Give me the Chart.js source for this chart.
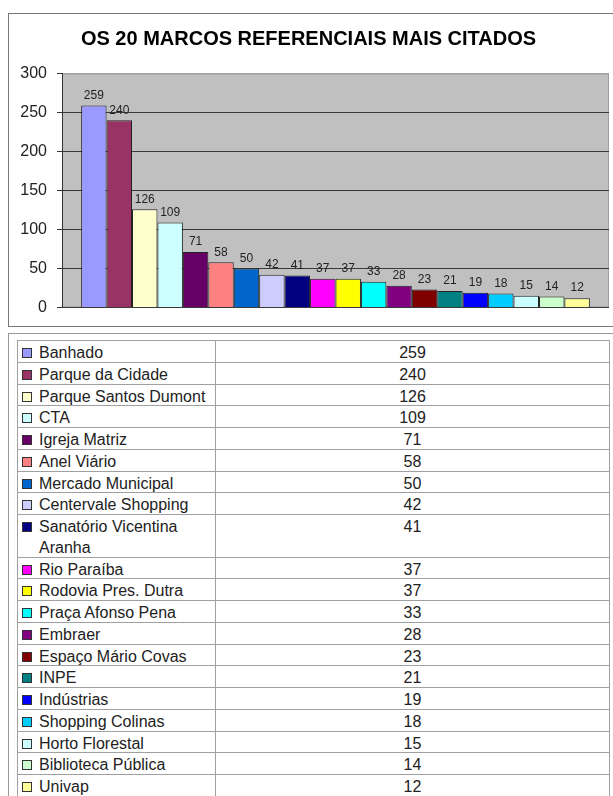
<!DOCTYPE html>
<html>
<head>
<meta charset="utf-8">
<script src="https://cdn.jsdelivr.net/npm/chart.js@4.4.0/dist/chart.umd.min.js"></script>
<style>
html,body{margin:0;padding:0;background:#fff;width:613px;height:796px;overflow:hidden;font-family:"Liberation Sans",Arial,sans-serif;}
#box1{position:absolute;left:8px;top:13px;width:620px;height:312px;border:1px solid #777;}
#wrap{position:absolute;left:0;top:0;width:613px;height:330px;}
#box2{position:absolute;left:8px;top:333px;width:620px;height:500px;border:1px solid #999;}
#tbl{position:absolute;left:17px;top:340px;width:593px;border-collapse:collapse;font-size:16px;color:#222;}
#tbl td{border:1px solid #a0a0a0;padding:0 4px;line-height:20.75px;vertical-align:top;}
#tbl td.v{text-align:center;}
#tbl td.n{width:193px;padding-left:0;}
.nm{position:relative;top:2px;padding-left:21px;}
.vv{position:relative;top:2px;}
.sw{position:absolute;left:4px;top:5px;width:8px;height:8px;border:1px solid #333;}
</style>
</head>
<body>
<div id="box1"></div>
<div id="wrap"><canvas id="chart" width="613" height="330"></canvas></div>
<div id="box2"></div>
<table id="tbl"></table>
<script>
// marcos referenciais (nome, citações, cor)
const places = ["Banhado","Parque da Cidade","Parque Santos Dumont","CTA","Igreja Matriz","Anel Viário",
  "Mercado Municipal","Centervale Shopping","Sanatório Vicentina Aranha","Rio Paraíba","Rodovia Pres. Dutra",
  "Praça Afonso Pena","Embraer","Espaço Mário Covas","INPE","Indústrias","Shopping Colinas",
  "Horto Florestal","Biblioteca Pública","Univap"];
const citations = [259,240,126,109,71,58,50,42,41,37,37,33,28,23,21,19,18,15,14,12];
const colors = ["#9999FF","#993366","#FFFFCC","#CCFFFF","#660066","#FF8080","#0066CC","#CCCCFF","#000080",
  "#FF00FF","#FFFF00","#00FFFF","#800080","#800000","#008080","#0000FF","#00CCFF","#CCFFFF","#CCFFCC","#FFFF99"];
const yMin = 0, yMax = 300, yStep = 50;

const font = "'Liberation Sans', Arial, sans-serif";

// fundo cinza da área de plotagem
const plotBg = {
  id: "plotBg",
  beforeDraw(chart) {
    const a = chart.chartArea, ctx = chart.ctx;
    ctx.save();
    ctx.fillStyle = "#c0c0c0";
    ctx.fillRect(a.left, a.top, a.right - a.left, a.bottom - a.top);
    ctx.strokeStyle = "#a0a0a0";
    ctx.lineWidth = 1;
    ctx.strokeRect(a.left + 0.5, a.top + 0.5, a.right - a.left - 1, a.bottom - a.top - 1);
    ctx.restore();
  }
};

// rótulos de valor em cima das barras
const valueLabels = {
  id: "valueLabels",
  afterDatasetsDraw(chart) {
    const ctx = chart.ctx;
    ctx.save();
    ctx.font = "12px " + font;
    ctx.fillStyle = "#222";
    ctx.textAlign = "center";
    ctx.textBaseline = "bottom";
    chart.data.datasets.forEach((ds, i) => {
      const bar = chart.getDatasetMeta(i).data[0];
      ctx.fillText(ds.data[0], bar.x, bar.y - 4);
    });
    ctx.restore();
  }
};

new Chart(document.getElementById("chart"), {
  type: "bar",
  data: {
    labels: [""],
    datasets: places.map((p, i) => ({
      label: p,
      data: [citations[i]],
      backgroundColor: colors[i],
      borderColor: "#222",
      borderWidth: 1,
      categoryPercentage: 0.93,
      barPercentage: 1
    }))
  },
  options: {
    responsive: false,
    animation: false,
    layout: { padding: { left: 8, right: 4, top: 14, bottom: 22.5 } },
    plugins: {
      legend: { display: false },
      tooltip: { enabled: false },
      title: {
        display: true,
        text: "OS 20 MARCOS REFERENCIAIS MAIS CITADOS",
        color: "#000",
        font: { family: font, size: 20, weight: "bold" },
        padding: { top: 13, bottom: 22.5 }
      }
    },
    scales: {
      x: { display: false },
      y: {
        min: yMin,
        max: yMax,
        afterFit(s) { s.width = 54; },
        ticks: { stepSize: yStep, color: "#222", padding: 10, font: { family: font, size: 16 } },
        grid: {
          color: c => c.tick && c.tick.value === yMax ? "#a0a0a0" : "#3a3a3a",
          tickColor: "#333",
          tickLength: 5
        },
        border: { display: true, color: "#333" }
      }
    }
  },
  plugins: [plotBg, valueLabels]
});

// tabela de dados
const tbl = document.getElementById("tbl");
places.forEach((p, i) => {
  const tr = document.createElement("tr");
  tr.innerHTML = '<td class="n"><div class="nm"><span class="sw" style="background:' + colors[i] + '"></span>' + p +
    '</div></td><td class="v"><div class="vv">' + citations[i] + '</div></td>';
  tbl.appendChild(tr);
});
</script>
</body>
</html>
